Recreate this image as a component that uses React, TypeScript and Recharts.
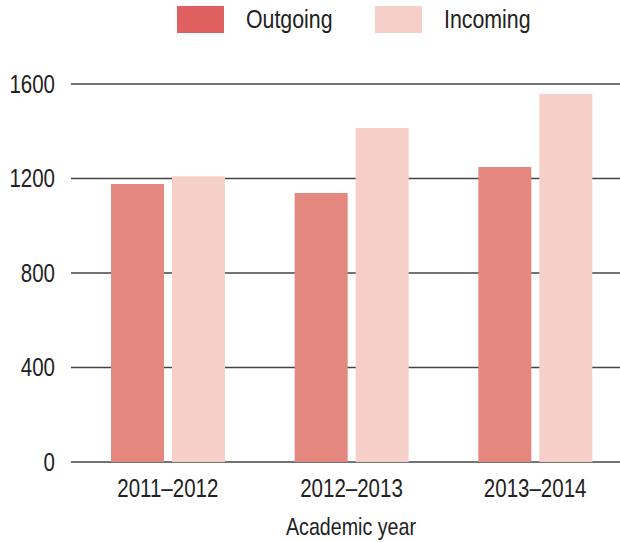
import { BarChart, Bar, XAxis, YAxis, CartesianGrid, Legend, Label } from 'recharts'

const years = ['2011–2012', '2012–2013', '2013–2014']
const outgoing = [1177, 1139, 1249]
const incoming = [1210, 1414, 1558]
const yTicks = [0, 400, 800, 1200, 1600]

// no narrow font installed, so squeeze Liberation Sans to get the condensed look
const FONT = '"Liberation Sans", Arial, sans-serif'
const SQUEEZE = 0.82
const TEXT = '#222222'

const SERIES = [
  { key: 'outgoing', name: 'Outgoing', bar: '#e4877f', swatch: '#e06060' },
  { key: 'incoming', name: 'Incoming', bar: '#f6d0c8', swatch: '#f6d0c8' },
]

const data = years.map((year, i) => ({ year, outgoing: outgoing[i], incoming: incoming[i] }))

function LegendBox() {
  return (
    <div style={{ height: 84, display: 'flex', alignItems: 'flex-start', paddingLeft: 177, paddingTop: 6, boxSizing: 'border-box' }}>
      {SERIES.map((s) => (
        <div key={s.key} style={{ display: 'flex', alignItems: 'center', width: 198, flexShrink: 0 }}>
          <div style={{ width: 47, height: 27, background: s.swatch, flexShrink: 0 }} />
          <span
            style={{
              marginLeft: 22,
              fontFamily: FONT,
              fontSize: 26,
              color: TEXT,
              lineHeight: '27px',
              display: 'inline-block',
              whiteSpace: 'nowrap',
              transform: `scaleX(${SQUEEZE})`,
              transformOrigin: 'left center',
            }}
          >
            {s.name}
          </span>
        </div>
      ))}
    </div>
  )
}

function YTick({ x, y, payload }: any) {
  return (
    <text
      transform={`translate(${x} ${y}) scale(${SQUEEZE} 1)`}
      textAnchor="end"
      dy="0.355em"
      fontFamily={FONT}
      fontSize={25}
      fill={TEXT}
    >
      {payload.value}
    </text>
  )
}

function XTick({ x, y, payload }: any) {
  return (
    <text
      transform={`translate(${x} ${y}) scale(${SQUEEZE} 1)`}
      textAnchor="middle"
      dy="0.71em"
      fontFamily={FONT}
      fontSize={25}
      fill={TEXT}
    >
      {payload.value}
    </text>
  )
}

function AxisTitle({ viewBox }: any) {
  const cx = viewBox.x + viewBox.width / 2 + 2
  const by = viewBox.y + viewBox.height - 7
  return (
    <text
      transform={`translate(${cx} ${by}) scale(${SQUEEZE} 1)`}
      textAnchor="middle"
      fontFamily={FONT}
      fontSize={24}
      fill={TEXT}
    >
      Academic year
    </text>
  )
}

export default function App() {
  return (
    <div style={{ position: 'fixed', left: 0, top: 0, width: 620, height: 542, overflow: 'hidden', background: '#fff' }}>
      <BarChart
        width={640}
        height={542}
        data={data}
        margin={{ top: 0, right: 13, bottom: 0, left: 0 }}
        barSize={53}
        barGap={8}
      >
        <Legend
          verticalAlign="top"
          content={() => <LegendBox />}
          wrapperStyle={{ top: 0, left: 0, width: 620 }}
        />
        <CartesianGrid horizontal vertical={false} stroke="#444" strokeWidth={1.4} />
        <YAxis
          domain={[0, 1600]}
          ticks={yTicks}
          width={71}
          axisLine={false}
          tickLine={false}
          tickSize={0}
          tickMargin={16}
          tick={<YTick />}
        />
        <XAxis
          dataKey="year"
          height={80}
          axisLine={false}
          tickLine={false}
          tickSize={0}
          tickMargin={17}
          padding={{ left: 5, right: 0 }}
          tick={<XTick />}
        >
          <Label content={(props: any) => <AxisTitle {...props} />} position="insideBottom" />
        </XAxis>
        {SERIES.map((s) => (
          <Bar key={s.key} dataKey={s.key} name={s.name} fill={s.bar} isAnimationActive={false} />
        ))}
      </BarChart>
    </div>
  )
}
